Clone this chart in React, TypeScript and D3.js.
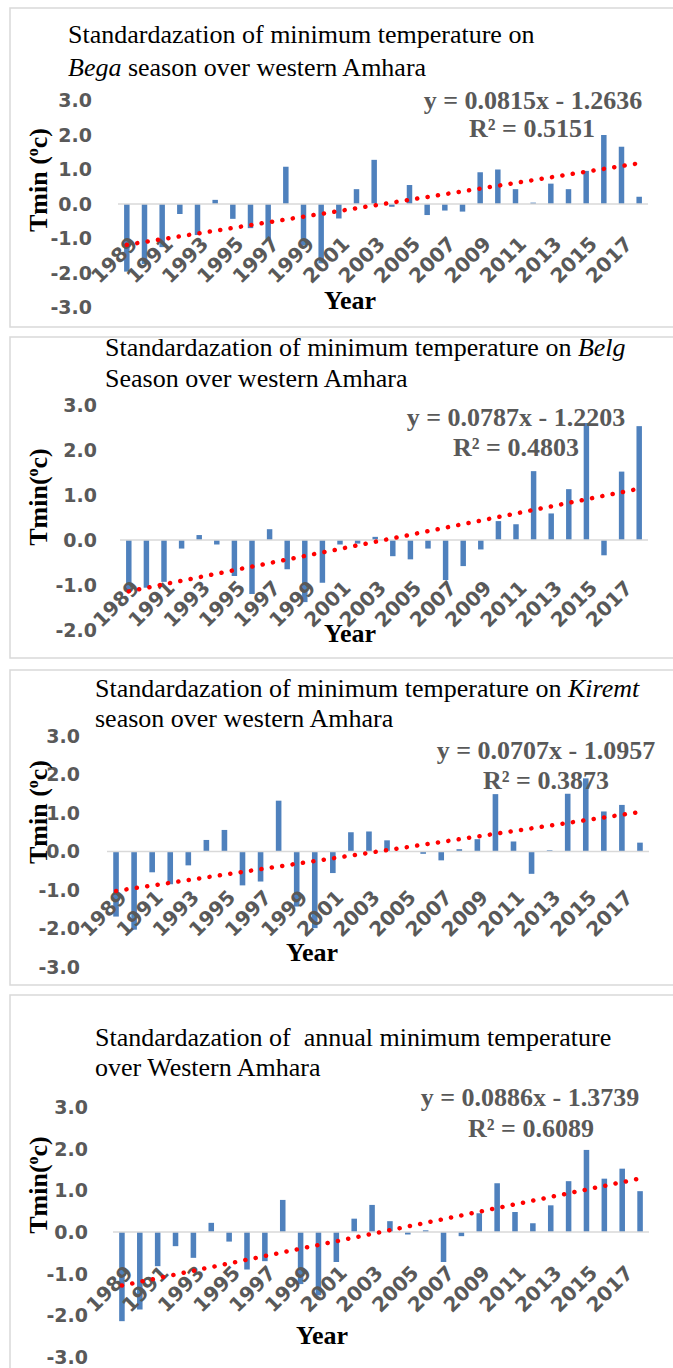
import React from "react";
import * as d3 from "d3";

// years on the x axis
const years = [
  1989, 1990, 1991, 1992, 1993, 1994, 1995, 1996, 1997, 1998,
  1999, 2000, 2001, 2002, 2003, 2004, 2005, 2006, 2007, 2008,
  2009, 2010, 2011, 2012, 2013, 2014, 2015, 2016, 2017, 2018,
];

// standardized Tmin anomalies
const begaValues = [
  -1.96, -1.74, -1.25, -0.29, -0.9, 0.12, -0.43, -0.7, -1.06, 1.08,
  -1.2, -1.72, -0.42, 0.43, 1.28, -0.08, 0.55, -0.32, -0.19, -0.22,
  0.92, 1.0, 0.43, 0.04, 0.59, 0.43, 0.96, 2.0, 1.66, 0.21,
];
const belgValues = [
  -1.15, -1.06, -0.93, -0.19, 0.11, -0.1, -0.8, -1.2, 0.24, -0.65,
  -1.38, -0.95, -0.1, -0.08, 0.07, -0.36, -0.43, -0.19, -0.89, -0.58,
  -0.21, 0.42, 0.35, 1.53, 0.59, 1.13, 2.6, -0.34, 1.52, 2.53,
];
const kiremtValues = [
  -1.69, -2.03, -0.54, -0.85, -0.36, 0.3, 0.56, -0.88, -0.78, 1.32,
  -1.43, -1.99, -0.56, 0.5, 0.52, 0.29, 0.01, -0.06, -0.23, 0.06,
  0.32, 1.49, 0.26, -0.58, 0.03, 1.5, 1.9, 1.04, 1.21, 0.23,
];
const annualValues = [
  -2.14, -1.86, -0.82, -0.34, -0.62, 0.22, -0.23, -0.9, -0.7, 0.77,
  -1.25, -1.52, -0.72, 0.32, 0.65, 0.26, -0.06, 0.04, -0.72, -0.1,
  0.45, 1.17, 0.48, 0.21, 0.64, 1.22, 1.97, 1.28, 1.52, 0.98,
];

// linear trend (slope, intercept, R²) as printed on each chart
const begaTrend = [0.0815, -1.2636, 0.5151];
const belgTrend = [0.0787, -1.2203, 0.4803];
const kiremtTrend = [0.0707, -1.0957, 0.3873];
const annualTrend = [0.0886, -1.3739, 0.6089];

const ticksSix = [3, 2, 1, 0, -1, -2, -3];
const ticksFive = [3, 2, 1, 0, -1, -2];

const serif = "'Liberation Serif', 'Times New Roman', serif";
const sans = "'DejaVu Sans', sans-serif";
const gray = "#595959";

const panels = [
  {
    key: "bega",
    values: begaValues,
    trend: begaTrend,
    ticks: ticksSix,
    line1: [{ t: "Standardazation of minimum temperature on" }],
    line2: [{ t: "Bega", i: true }, { t: " season over western Amhara" }],
    yTitleSpace: " ",
    box: [10, 8, 319],
    x0: 118, x1: 648, yTop: 100.5, yBottom: 307.5,
    tickX: 92, titleX: 68, titleY: [34, 67],
    eq: [533, 100], r2: [532, 128], year: [350, 300], yTitle: [38, 180],
    labelDy: 36,
  },
  {
    key: "belg",
    values: belgValues,
    trend: belgTrend,
    ticks: ticksFive,
    line1: [{ t: "Standardazation of minimum temperature on " }, { t: "Belg", i: true }],
    line2: [{ t: "Season over western Amhara" }],
    yTitleSpace: "",
    box: [10, 337, 321],
    x0: 120, x1: 648, yTop: 405, yBottom: 630,
    tickX: 97, titleX: 105, titleY: [347, 378],
    eq: [516, 417], r2: [516, 447], year: [350, 633], yTitle: [38, 497],
    labelDy: 44,
  },
  {
    key: "kiremt",
    values: kiremtValues,
    trend: kiremtTrend,
    ticks: ticksSix,
    line1: [{ t: "Standardazation of minimum temperature on " }, { t: "Kiremt", i: true }],
    line2: [{ t: "season over western Amhara" }],
    yTitleSpace: " ",
    box: [10, 670, 315],
    x0: 107, x1: 649, yTop: 736, yBottom: 967,
    tickX: 80, titleX: 95, titleY: [688, 718],
    eq: [546, 750], r2: [546, 780], year: [312, 952], yTitle: [38, 812],
    labelDy: 42,
  },
  {
    key: "annual",
    values: annualValues,
    trend: annualTrend,
    ticks: ticksSix,
    line1: [{ t: "Standardazation of  annual minimum temperature" }],
    line2: [{ t: "over Western Amhara" }],
    yTitleSpace: "",
    box: [10, 995, 400],
    x0: 113, x1: 649, yTop: 1107, yBottom: 1357,
    tickX: 88, titleX: 95, titleY: [1037, 1067],
    eq: [530, 1097], r2: [531, 1128], year: [322, 1335], yTitle: [38, 1185],
    labelDy: 37,
  },
];

function Panel({ p }: { p: any }) {
  const x = d3.scaleBand<number>()
    .domain(years)
    .range([p.x0, p.x1])
    .paddingInner(0.69)
    .paddingOuter(0.345);
  const y = d3.scaleLinear()
    .domain([p.ticks[p.ticks.length - 1], p.ticks[0]])
    .range([p.yBottom, p.yTop]);
  const bw = x.bandwidth();
  const cx = (yr: number) => (x(yr) as number) + bw / 2;

  const [a, b, r2] = p.trend;
  const trendPts = years.map((yr, i) => [cx(yr), y(a * (i + 1) + b)] as [number, number]);
  const line = d3.line();

  return (
    <g>
      <rect x={p.box[0]} y={p.box[1]} width={700} height={p.box[2]} fill="#fff" stroke="#d9d9d9" strokeWidth={1.5} />
      <text x={p.titleX} y={p.titleY[0]} dy="0.35em" fontFamily={serif} fontSize={26} fill="#000" style={{ whiteSpace: "pre" }}>
        {p.line1.map((s: any, i: number) => (
          <tspan key={i} fontStyle={s.i ? "italic" : "normal"}>{s.t}</tspan>
        ))}
      </text>
      <text x={p.titleX} y={p.titleY[1]} dy="0.35em" fontFamily={serif} fontSize={26} fill="#000" style={{ whiteSpace: "pre" }}>
        {p.line2.map((s: any, i: number) => (
          <tspan key={i} fontStyle={s.i ? "italic" : "normal"}>{s.t}</tspan>
        ))}
      </text>

      {p.ticks.map((t: number) => (
        <text key={t} x={p.tickX} y={y(t)} dy="0.36em" textAnchor="end" fontFamily={sans} fontWeight="bold" fontSize={19} fill={gray}>
          {t.toFixed(1)}
        </text>
      ))}

      {years.map((yr, i) => {
        const v = p.values[i];
        return (
          <rect key={yr} x={x(yr)} width={bw} y={y(Math.max(0, v))} height={Math.abs(y(v) - y(0))} fill="#4f81bd" />
        );
      })}

      <line x1={p.x0} x2={p.x1} y1={y(0)} y2={y(0)} stroke="#d9d9d9" strokeWidth={1.5} />

      {years.filter((_, i) => i % 2 === 0).map((yr) => {
        const ax = cx(yr) + 7;
        const ay = y(0) + p.labelDy;
        return (
          <text key={yr} transform={`translate(${ax},${ay}) rotate(-45)`} textAnchor="end" dy="0.36em" fontFamily={sans} fontWeight="bold" fontSize={20} fill={gray}>
            {yr}
          </text>
        );
      })}

      <path d={line(trendPts) || ""} fill="none" stroke="#ff0000" strokeWidth={4.5} strokeLinecap="round" strokeDasharray="0.1 10.4" />

      <text x={p.eq[0]} y={p.eq[1]} dy="0.35em" textAnchor="middle" fontFamily={serif} fontWeight="bold" fontSize={26} fill={gray}>
        {`y = ${a.toFixed(4)}x - ${Math.abs(b).toFixed(4)}`}
      </text>
      <text x={p.r2[0]} y={p.r2[1]} dy="0.35em" textAnchor="middle" fontFamily={serif} fontWeight="bold" fontSize={26} fill={gray}>
        {`R² = ${r2.toFixed(4)}`}
      </text>

      <text x={p.year[0]} y={p.year[1]} dy="0.35em" textAnchor="middle" fontFamily={serif} fontWeight="bold" fontSize={26} fill="#000">
        Year
      </text>
      <text transform={`translate(${p.yTitle[0]},${p.yTitle[1]}) rotate(-90)`} dy="0.35em" textAnchor="middle" fontFamily={serif} fontWeight="bold" fontSize={26} fill="#000" style={{ whiteSpace: "pre" }}>
        {`Tmin${p.yTitleSpace}(`}
        <tspan dy="-9" fontSize={16}>o</tspan>
        <tspan dy="9">c)</tspan>
      </text>
    </g>
  );
}

export default function App() {
  return (
    <div style={{ position: "absolute", left: 0, top: 0 }}>
      <svg width={673} height={1368} style={{ display: "block", background: "#fff" }}>
        {panels.map((p) => (
          <Panel key={p.key} p={p} />
        ))}
      </svg>
    </div>
  );
}
